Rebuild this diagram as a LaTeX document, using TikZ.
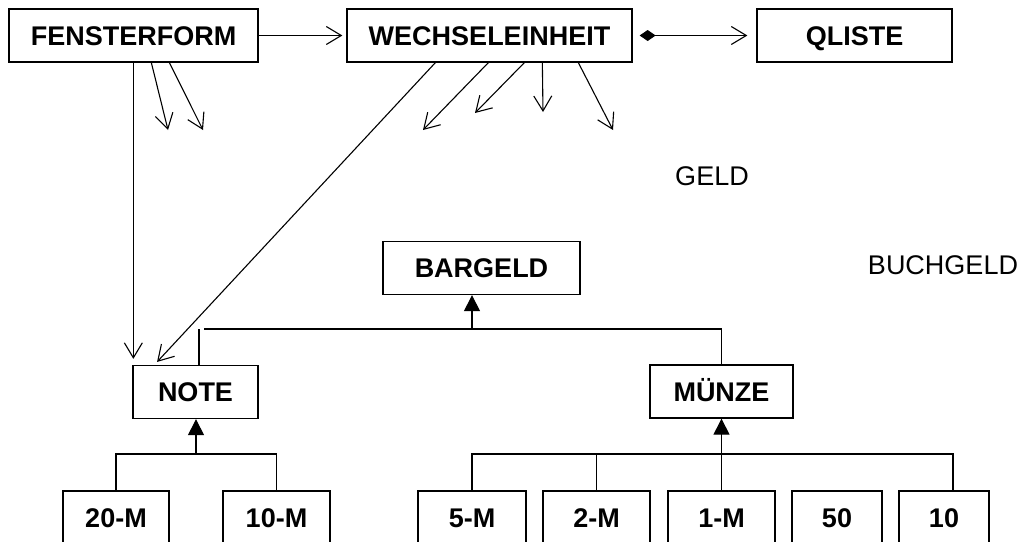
\documentclass[tikz,border=0pt]{standalone}
\usepackage{fontspec}
\setmainfont{Liberation Sans}
\usetikzlibrary{arrows.meta,calc}
\newcommand{\grossschrift}{\fontsize{27}{32}\selectfont}
\tikzset{klasse/.style={draw,line width=1.3pt,font=\grossschrift\bfseries,text height=19pt,text depth=0pt,
        minimum height=53pt,inner sep=0pt},
    wort/.style={inner sep=0pt,font=\grossschrift},
    offen/.style={-{Straight Barb[length=15pt,width=18pt,line width=1.1pt]}},
    erbt/.style={-{Triangle[length=16pt,width=16pt]}},
    teil/.style={{Diamond[length=16pt,width=11pt]}-{Straight Barb[length=15pt,width=18pt,line width=1.1pt]}}}
\begin{document}
\begin{tikzpicture}[x=1pt,y=-1pt,line width=1.1pt]
\useasboundingbox (0,0) rectangle (1023,541);
\clip (0,0) rectangle (1023,541);
\node[klasse,minimum width=249pt] (fensterform) at (133.5,35.5) {FENSTERFORM};
\node[klasse,minimum width=285pt] (wechsel) at (489.5,35.5) {WECHSELEINHEIT};
\node[klasse,minimum width=195pt] (qliste) at (854.5,35.5) {QLISTE};
\node[wort] (geld) at (712,176) {GELD};
\node[wort] (buchgeld) at (943,265) {BUCHGELD};
\node[klasse,minimum width=197pt] (bargeld) at (481.5,268) {BARGELD};
\node[klasse,minimum width=125pt] (note) at (195.5,392) {NOTE};
\node[klasse,minimum width=143pt] (muenze) at (721.5,391.5) {MÜNZE};
\node[klasse,minimum width=106pt] (m20) at (116,517.5) {20-M};
\node[klasse,minimum width=107pt] (m10) at (276.5,517.5) {10-M};
\node[klasse,minimum width=108pt] (m5) at (472,517.5) {5-M};
\node[klasse,minimum width=107pt] (m2) at (596.5,517.5) {2-M};
\node[klasse,minimum width=107pt] (m1) at (721.5,517.5) {1-M};
\node[klasse,minimum width=90pt] (c50) at (837,517.5) {50};
\node[klasse,minimum width=90pt] (c10) at (944,517.5) {10};

\coordinate (f1) at (168,130);
\coordinate (f2) at (203,130);
\coordinate (w1) at (423,130);
\coordinate (w2) at (475,113);
\coordinate (w3) at (543,112);
\coordinate (w4) at (613,130);
\coordinate (geldbus) at (472,329);
\coordinate (notebus) at (196,454);
\coordinate (muenzebus) at (721,454);

\draw[offen,shorten >=4pt] (fensterform) -- (wechsel);
\draw[teil,shorten <=7pt,shorten >=9pt] (wechsel) -- (qliste);
\draw[offen] ($(fensterform.south west)+(143,0)$) -- (f1);
\draw[offen] ($(fensterform.south west)+(161,0)$) -- (f2);
\draw[offen] ($(wechsel.south west)+(142,0)$) -- (w1);
\draw[offen] ($(wechsel.south west)+(178,0)$) -- (w2);
\draw[offen] ($(wechsel.south west)+(196,0)$) -- (w3);
\draw[offen] ($(wechsel.south west)+(232,0)$) -- (w4);
\draw[offen,shorten >=6pt] ($(fensterform.south west)+(125,0)$) -- ($(note.north west)+(1,0)$);
\draw[offen,shorten >=4pt] ($(wechsel.south west)+(89,0)$) -- ($(note.north west)+(22,0)$);

\draw[erbt] (geldbus) -- (geldbus |- bargeld.south);
\draw ($(note.north)+(3.5,0)$) -- ++(0,-36);
\draw ($(geldbus)+(-268,0)$) -- (geldbus) -| (muenze.north);
\draw[erbt] (notebus) -- (notebus |- note.south);
\draw (m20.north) |- (notebus) -| (m10.north);
\draw[erbt] (m1.north) -- (muenze.south);
\draw (m5.north) |- (muenzebus) -| ($(c10.north)+(9,0)$);
\draw (m2.north) -- (m2.north |- muenzebus);
\draw ($(c50.north)+(-1,0)$) -- ($(c50.north)+(-1,0)$ |- muenzebus);
\end{tikzpicture}
\end{document}
